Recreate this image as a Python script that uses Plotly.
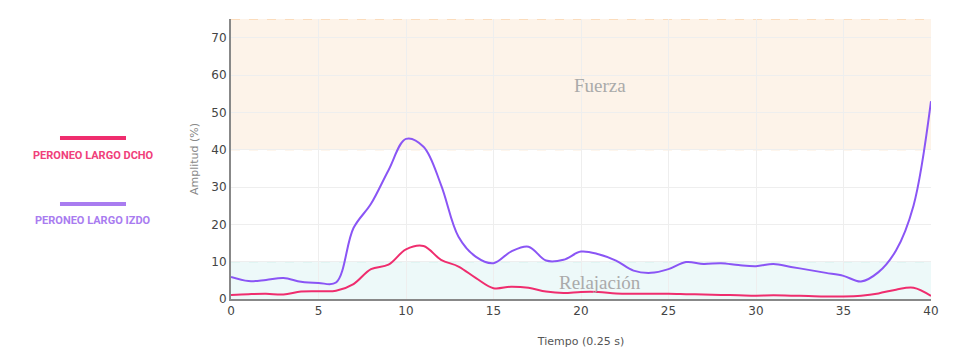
import plotly.graph_objects as go

tiempo = list(range(41))
dcho = [1.1, 1.3, 1.4, 1.2, 2.0, 2.1, 2.2, 4.0, 8.0, 9.2, 13.3, 14.2, 10.5, 8.7, 5.6, 2.9,
        3.3, 3.0, 2.0, 1.6, 1.9, 1.9, 1.5, 1.4, 1.4, 1.4, 1.3, 1.2, 1.1, 1.0, 0.9,
        1.0, 0.9, 0.8, 0.7, 0.7, 0.9, 1.5, 2.5, 3.0, 0.8]
izdo = [5.9, 4.8, 5.1, 5.6, 4.6, 4.3, 4.4, 19.0, 25.5, 34.5, 42.9, 40.8, 30.6, 16.7, 11.3, 9.6,
        12.7, 14.0, 10.3, 10.5, 12.7, 12.0, 10.3, 7.6, 7.0, 8.0, 9.9, 9.4, 9.6, 9.1, 8.8,
        9.4, 8.6, 7.8, 7.0, 6.2, 4.7, 7.2, 13.0, 25.0, 53.0]

zonas = [("Fuerza", 40, 75, 57.2), ("Relajación", 0, 10, 4.3)]
serie_nombres = ["PERONEO LARGO DCHO", "PERONEO LARGO IZDO"]

PINK = "#ef2d6e"
PURPLE = "#8a55f5"

fig = go.Figure()
fig.add_trace(go.Scatter(x=tiempo, y=dcho, mode="lines", line=dict(color=PINK, width=2, shape="spline", smoothing=1),
                         name=serie_nombres[0], showlegend=False))
fig.add_trace(go.Scatter(x=tiempo, y=izdo, mode="lines", line=dict(color=PURPLE, width=2, shape="spline", smoothing=1),
                         name=serie_nombres[1], showlegend=False))

band_styles = [("rgba(253,240,228,0.8)", "#f9c58f"), ("rgba(232,247,247,0.8)", "#9fdccf")]
for (label, y0, y1, ytxt), (fill, edge) in zip(zonas, band_styles):
    fig.add_shape(type="rect", xref="x", yref="y", x0=0, x1=40, y0=y0, y1=y1,
                  fillcolor=fill, line=dict(width=0), layer="below")
    for yy in (y0, y1):
        if yy == 0:
            continue
        fig.add_shape(type="line", xref="x", yref="y", x0=0, x1=40, y0=yy, y1=yy,
                      line=dict(color=edge, width=1, dash="dash"), layer="below")
    fig.add_annotation(x=21.1, y=ytxt, xref="x", yref="y", text=label, showarrow=False,
                       font=dict(family="Liberation Serif", size=19, color="#aaaaaa"))

# custom legend on the left
leg = [(serie_nombres[0], PINK, "#f0407a", 0.575, 0.511),
       (serie_nombres[1], "#a97cf0", "#a97cf0", 0.339, 0.282)]
for name, lc, tc, yl, yt in leg:
    fig.add_shape(type="line", xref="paper", yref="paper", x0=-0.2443, x1=-0.15, y0=yl, y1=yl,
                  line=dict(color=lc, width=4))
    fig.add_annotation(xref="paper", yref="paper", x=-0.197, y=yt, xanchor="center", yanchor="middle",
                       text="<b>" + name + "</b>",
                       showarrow=False, font=dict(family="Roboto", size=11, color=tc))

fig.update_layout(
    width=960, height=364,
    margin=dict(l=231, r=29, t=19, b=65),
    paper_bgcolor="white", plot_bgcolor="white",
    font=dict(family="Verdana, DejaVu Sans", color="#444"),
    xaxis=dict(range=[0, 40], tickvals=[0, 5, 10, 15, 20, 25, 30, 35, 40], showgrid=True,
               gridcolor="#eeeeee", zeroline=False, showline=True, linecolor="#888888", linewidth=2,
               ticks="", tickfont=dict(size=12, color="#444"),
               title=dict(text="Tiempo (0.25 s)", font=dict(size=11, color="#555"), standoff=20)),
    yaxis=dict(range=[0, 75], tickvals=[0, 10, 20, 30, 40, 50, 60, 70], showgrid=True,
               gridcolor="#eeeeee", zeroline=False, showline=True, linecolor="#888888", linewidth=2,
               ticks="", tickfont=dict(size=12, color="#444"),
               title=dict(text="Amplitud (%)", font=dict(size=11, color="#888"), standoff=10)),
)

fig.write_html("out.html")
